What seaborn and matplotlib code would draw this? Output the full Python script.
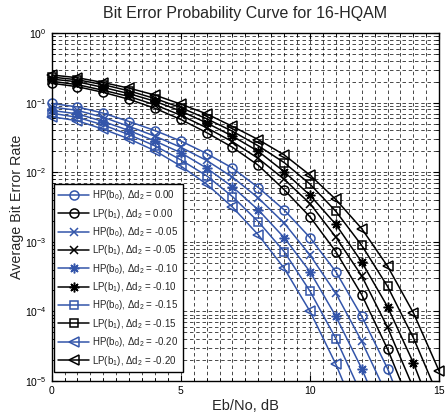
import numpy as np
import pandas as pd
import matplotlib
matplotlib.use("Agg")
import matplotlib.pyplot as plt
import seaborn as sns
from matplotlib.ticker import LogLocator, MultipleLocator, NullFormatter
from matplotlib.transforms import Bbox, TransformedBbox

# ---------------- data ----------------
ebno = [0, 1, 2, 3, 4, 5, 6, 7, 8, 9, 10, 11, 12, 13, 14, 15]

hp_d000 = [9.77e-2, 8.71e-2, 7.08e-2, 5.37e-2, 3.98e-2, 2.82e-2, 1.86e-2, 1.15e-2,
           6.03e-3, 2.88e-3, 1.15e-3, 3.72e-4, 8.51e-5, 1.51e-5, 1.78e-6, 1.58e-7]
lp_d000 = [0.191, 0.170, 0.141, 0.112, 8.32e-2, 5.75e-2, 3.72e-2, 2.29e-2,
           1.26e-2, 5.62e-3, 2.29e-3, 7.24e-4, 1.74e-4, 2.88e-5, 3.55e-6, 3.16e-7]
hp_d005 = [8.71e-2, 7.76e-2, 6.17e-2, 4.57e-2, 3.31e-2, 2.29e-2, 1.48e-2, 8.51e-3,
           4.27e-3, 1.86e-3, 6.46e-4, 1.82e-4, 3.72e-5, 6.03e-6, 6.31e-7, 5.01e-8]
lp_d005 = [0.204, 0.182, 0.151, 0.123, 9.33e-2, 6.61e-2, 4.37e-2, 2.75e-2,
           1.58e-2, 7.94e-3, 3.55e-3, 1.17e-3, 3.24e-4, 5.89e-5, 7.94e-6, 7.94e-7]
hp_d010 = [7.76e-2, 6.92e-2, 5.37e-2, 3.98e-2, 2.82e-2, 1.91e-2, 1.15e-2, 6.17e-3,
           2.88e-3, 1.15e-3, 3.72e-4, 8.51e-5, 1.51e-5, 2.00e-6, 2.00e-7, 1.58e-8]
lp_d010 = [0.219, 0.200, 0.166, 0.135, 0.105, 7.59e-2, 5.13e-2, 3.31e-2,
           2.00e-2, 1.02e-2, 4.68e-3, 1.78e-3, 5.13e-4, 1.17e-4, 1.82e-5, 2.00e-6]
hp_d015 = [7.08e-2, 6.17e-2, 4.79e-2, 3.47e-2, 2.40e-2, 1.51e-2, 8.91e-3, 4.47e-3,
           1.95e-3, 7.24e-4, 1.95e-4, 4.07e-5, 6.31e-6, 7.94e-7, 7.94e-8, 6.31e-9]
lp_d015 = [0.234, 0.214, 0.182, 0.148, 0.115, 8.51e-2, 5.89e-2, 3.89e-2,
           2.40e-2, 1.38e-2, 6.76e-3, 2.75e-3, 8.91e-4, 2.29e-4, 4.17e-5, 5.62e-6]
hp_d020 = [6.31e-2, 5.50e-2, 4.17e-2, 3.02e-2, 2.04e-2, 1.23e-2, 6.76e-3, 3.16e-3,
           1.26e-3, 4.17e-4, 1.00e-4, 1.74e-5, 2.24e-6, 2.51e-7, 2.00e-8, 1.58e-9]
lp_d020 = [0.251, 0.229, 0.195, 0.162, 0.129, 9.55e-2, 6.92e-2, 4.57e-2,
           2.95e-2, 1.78e-2, 9.12e-3, 4.07e-3, 1.55e-3, 4.47e-4, 9.55e-5, 1.38e-5]

series_labels = [
    r"HP(b$_0$), $\Delta$d$_2$ = 0.00",
    r"LP(b$_1$), $\Delta$d$_2$ = 0.00",
    r"HP(b$_0$), $\Delta$d$_2$ = -0.05",
    r"LP(b$_1$), $\Delta$d$_2$ = -0.05",
    r"HP(b$_0$), $\Delta$d$_2$ = -0.10",
    r"LP(b$_1$), $\Delta$d$_2$ = -0.10",
    r"HP(b$_0$), $\Delta$d$_2$ = -0.15",
    r"LP(b$_1$), $\Delta$d$_2$ = -0.15",
    r"HP(b$_0$), $\Delta$d$_2$ = -0.20",
    r"LP(b$_1$), $\Delta$d$_2$ = -0.20",
]
series_values = [hp_d000, lp_d000, hp_d005, lp_d005, hp_d010,
                 lp_d010, hp_d015, lp_d015, hp_d020, lp_d020]

BLUE = "#3355aa"
colors = [BLUE, "black"] * 5
ASTER = (8, 2, 0)
markers = ["o", "o", "x", "x", ASTER, ASTER, "s", "s", "<", "<"]

# ---------------- figure ----------------
sns.set_style("ticks")
plt.rcParams["font.family"] = ["Liberation Sans", "DejaVu Sans"]
plt.rcParams["mathtext.fontset"] = "custom"
plt.rcParams["mathtext.rm"] = "Liberation Sans"
plt.rcParams["mathtext.it"] = "Liberation Sans"
plt.rcParams["mathtext.default"] = "regular"

fig = plt.figure(figsize=(4.45, 4.15), dpi=100)
ax = fig.add_axes([0.116, 0.082, 0.871, 0.838])

clipbox = TransformedBbox(Bbox([[-0.03, 0.0], [1.03, 1.0]]), ax.transAxes)

for lab, vals, c, m in zip(series_labels, series_values, colors, markers):
    df = pd.DataFrame({"ebno": ebno, "ber": vals})
    if m == "s":
        msize = 6.0
    elif m in ("x",):
        msize = 6.0
    elif m == ASTER:
        msize = 7.0
    else:
        msize = 6.5
    sns.lineplot(data=df, x="ebno", y="ber", ax=ax, color=c, marker=m,
                 markersize=msize, markerfacecolor="none", markeredgecolor=c,
                 markeredgewidth=1.1, linewidth=1.1, label=lab)

for ln in ax.get_lines():
    ln.set_clip_box(clipbox)

ax.set_yscale("log")
ax.set_xlim(0, 15)
ax.set_ylim(1e-5, 1)

ax.xaxis.set_major_locator(MultipleLocator(5))
ax.xaxis.set_minor_locator(MultipleLocator(0.5))
ax.yaxis.set_major_locator(LogLocator(base=10, numticks=10))
ax.yaxis.set_minor_locator(LogLocator(base=10, subs=np.arange(2, 10), numticks=20))
ax.yaxis.set_minor_formatter(NullFormatter())

ax.grid(True, which="both", color="black", linestyle=(0, (5, 4)), linewidth=0.5)
ax.tick_params(which="both", direction="in", top=True, right=True, colors="black")
ax.tick_params(which="major", length=4, labelsize=7.5, width=0.8)
ax.tick_params(which="minor", length=2.5, width=0.6)
for s in ax.spines.values():
    s.set_visible(True)
    s.set_color("black")
    s.set_linewidth(1.0)

ax.set_title("Bit Error Probability Curve for 16-HQAM", fontsize=11.5, pad=11)
ax.set_xlabel("Eb/No, dB", fontsize=10.5, labelpad=2)
ax.set_ylabel("Average Bit Error Rate", fontsize=10.3, labelpad=1)

leg = ax.legend(loc="lower left", bbox_to_anchor=(0.006, 0.026), borderaxespad=0,
                fontsize=7, frameon=True, fancybox=False, framealpha=1,
                edgecolor="black", handlelength=3.2, handletextpad=0.3,
                labelspacing=0.45, borderpad=0.45)
leg.get_frame().set_linewidth(1.0)

fig.savefig("out.png", dpi=100)
